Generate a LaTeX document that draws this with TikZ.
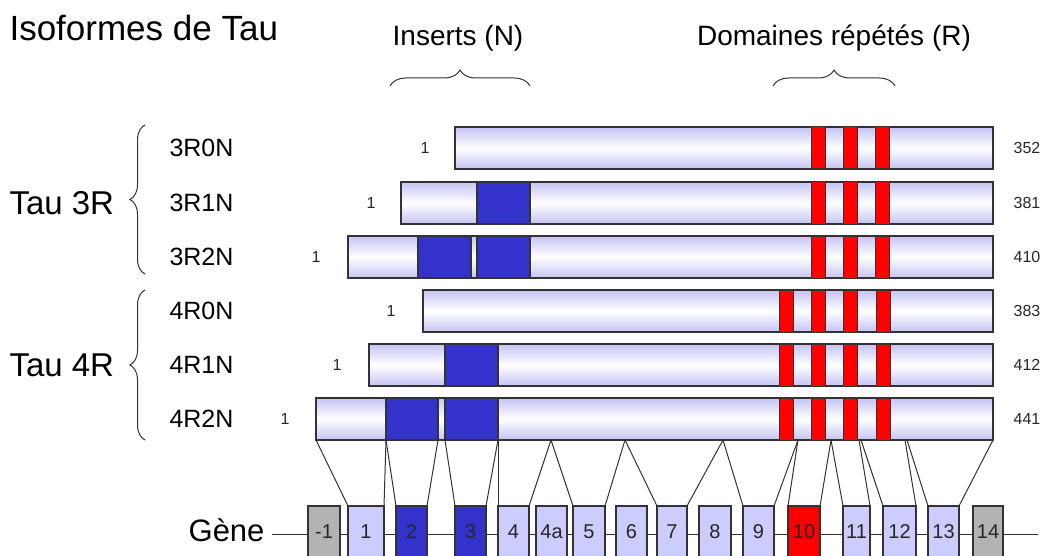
\documentclass[tikz,border=0pt]{standalone}
\usepackage{fontspec}
\setmainfont{Liberation Sans}
\usetikzlibrary{decorations.pathreplacing}
\definecolor{lav}{HTML}{CCCCFF}
\definecolor{barlav}{HTML}{C4C4F4}
\definecolor{insblue}{HTML}{3333CC}
\definecolor{repred}{HTML}{FF0000}
\definecolor{exgrey}{HTML}{B3B3B3}
\definecolor{edge}{HTML}{333333}
\begin{document}
\begin{tikzpicture}[x=1pt,y=-1pt]
\tikzset{
bar/.style={draw=edge,line width=1.2pt,top color=barlav,bottom color=barlav,middle color=white,minimum height=42pt,inner sep=0,outer sep=0,anchor=west},
ins/.style={draw=edge,line width=1.2pt,fill=insblue,minimum height=42pt,inner sep=0,outer sep=0,anchor=west},
rep/.style={draw=edge,line width=1pt,fill=repred,minimum height=42pt,minimum width=14pt,inner sep=0,outer sep=0,anchor=west},
exon/.style={draw=edge,line width=1.2pt,minimum height=52pt,inner sep=0,outer sep=0,anchor=north west,font=\fontsize{20}{24}\selectfont,text=black!85},
light exon/.style={exon,fill=lav},
blue exon/.style={exon,fill=insblue},
red exon/.style={exon,fill=repred},
grey exon/.style={exon,fill=exgrey},
link/.style={draw=edge,line width=1pt},
curly/.style={draw=edge,line width=1pt,decorate,decoration={brace,amplitude=#1}},
small/.style={font=\fontsize{16}{19}\selectfont,text=black!85},
rowlab/.style={font=\fontsize{25}{29}\selectfont,anchor=west},
grouplab/.style={font=\fontsize{33}{38}\selectfont,anchor=west}
}
\useasboundingbox (0,0) rectangle (1046,556);
\clip (0,0) rectangle (1046,556);

% titles
\node[font=\fontsize{35}{40}\selectfont,anchor=west] (title) at (6,28) {Isoformes de Tau};
\node[font=\fontsize{28}{32}\selectfont] (insN) at (458,38) {Inserts (N)};
\node[font=\fontsize{28}{32}\selectfont] (domR) at (834,38) {Domaines répétés (R)};
\coordinate (nb1) at (390,86);
\coordinate (nb2) at (530,86);
\coordinate (rb1) at (773,86);
\coordinate (rb2) at (895,86);
\draw[curly=16pt] (nb1) -- (nb2);
\draw[curly=16pt] (rb1) -- (rb2);

% groups
\node[grouplab] (tau3) at (6,203) {Tau 3R};
\node[grouplab] (tau4) at (6,365) {Tau 4R};
\coordinate (tb1) at (145,274);
\coordinate (tb2) at (145,125);
\coordinate (tb3) at (145,440);
\coordinate (tb4) at (145,290);
\draw[curly=15pt] (tb1) -- (tb2);
\draw[curly=15pt] (tb3) -- (tb4);

% isoforms
\foreach \y/\r/\t in {148/3R0N/3r0n,203/3R1N/3r1n,257/3R2N/3r2n,311/4R0N/4r0n,365/4R1N/4r1n,419/4R2N/4r2n}
  \node[rowlab] (l\t) at (166,\y) {\r};
\node[bar,minimum width=538pt] (b3r0n) at (455,148) {};
\node[bar,minimum width=592pt] (b3r1n) at (401,203) {};
\node[bar,minimum width=645pt] (b3r2n) at (348,257) {};
\node[bar,minimum width=570pt] (b4r0n) at (423,311) {};
\node[bar,minimum width=624pt] (b4r1n) at (369,365) {};
\node[bar,minimum width=677pt] (b4r2n) at (316,419) {};

\node[ins,minimum width=53pt] (n2-3r1n) at (477,203) {};
\node[ins,minimum width=53pt] (n1-3r2n) at (418,257) {};
\node[ins,minimum width=53pt] (n2-3r2n) at (477,257) {};
\node[ins,minimum width=53pt] (n2-4r1n) at (445,365) {};
\node[ins,minimum width=52pt] (n1-4r2n) at (386,419) {};
\node[ins,minimum width=53pt] (n2-4r2n) at (445,419) {};

\foreach \y/\t in {148/3r0n,203/3r1n,257/3r2n}
  \foreach \x in {811,843,875}
    \node[rep] (r\x-\t) at (\x,\y) {};
\foreach \y/\t in {311/4r0n,365/4r1n,419/4r2n}
  \foreach \x in {779,811,843,876}
    \node[rep] (r\x-\t) at (\x,\y) {};

\foreach \x/\y/\t in {425/148/3r0n,371/203/3r1n,316/257/3r2n,391/311/4r0n,337/365/4r1n,285/419/4r2n}
  \node[small] (s\t) at (\x,\y) {1};
\foreach \y/\n/\t in {148/352/3r0n,203/381/3r1n,257/410/3r2n,311/383/4r0n,365/412/4r1n,419/441/4r2n}
  \node[small] (e\t) at (1027,\y) {\n};

% gene
\node[font=\fontsize{31}{36}\selectfont,anchor=east] (gene) at (268,530) {Gène};
\coordinate (gl) at (272,534);
\coordinate (gr) at (1038,534);
\draw[link] (gl) -- (gr);
\foreach \n/\l/\x/\w/\s in {m1/-1/308/32/grey exon,1/1/348/36/light exon,2/2/396/31/blue exon,3/3/455/31/blue exon,
  4/4/498/31/light exon,4a/4a/536/31/light exon,5/5/573/32/light exon,6/6/616/31/light exon,
  7/7/657/30/light exon,8/8/699/32/light exon,9/9/743/31/light exon,10/10/788/32/red exon,
  11/11/843/27/light exon,12/12/883/33/light exon,13/13/928/31/light exon,14/14/973/30/grey exon}
  \node[\s,minimum width=\w pt] (g\n) at (\x,506) {\l};

% splicing
\coordinate (k1) at (551,440);
\coordinate (k2) at (625,440);
\coordinate (k3) at (723,440);
\coordinate (k4) at (798,440);
\coordinate (k5) at (831,440);
\coordinate (k6) at (859,440);
\coordinate (k7) at (861,440);
\coordinate (k8) at (905,440);
\coordinate (k9) at (907,440);
\foreach \a/\b in {b4r2n.south west/g1.north west,n1-4r2n.south west/g1.north east,
  n1-4r2n.south west/g2.north west,n1-4r2n.south east/g2.north east,
  n2-4r2n.south west/g3.north west,n2-4r2n.south east/g3.north east,
  n2-4r2n.south east/g4.north west,k1/g4.north east,k1/g5.north west,
  k2/g5.north east,k2/g7.north west,k3/g7.north east,k3/g9.north west,
  k4/g9.north east,k4/g10.north west,k5/g10.north east,k5/g11.north west,
  k6/g11.north east,k7/g12.north west,k8/g12.north east,k9/g13.north west,
  b4r2n.south east/g13.north east}
  \draw[link] (\a) -- (\b);
\end{tikzpicture}
\end{document}
